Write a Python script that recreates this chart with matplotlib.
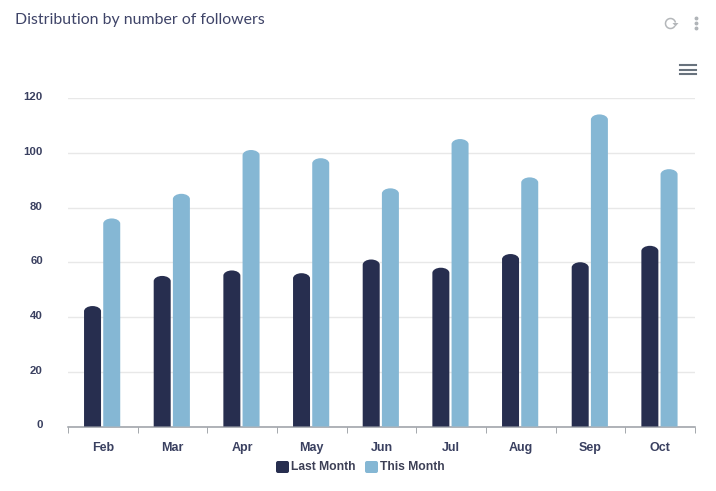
import numpy as np
import matplotlib
matplotlib.use("Agg")
import matplotlib.pyplot as plt
from matplotlib.patches import PathPatch, FancyBboxPatch, Arc, Polygon
from matplotlib.path import Path
from matplotlib.lines import Line2D
from matplotlib.transforms import ScaledTranslation

months = ['Feb', 'Mar', 'Apr', 'May', 'Jun', 'Jul', 'Aug', 'Sep', 'Oct']
last_month = [44, 55, 57, 56, 61, 58, 63, 60, 66]
this_month = [76, 85, 101, 98, 87, 105, 91, 114, 94]
y_ticks = [0, 20, 40, 60, 80, 100, 120]

W, H = 716, 491
DARK = '#272e4f'
LIGHT = '#85b7d4'
TEXT = '#3a4060'


def round_top(ax, rect, color, cap=1.9):
    # swap a bar rectangle for the same bar with a domed top
    x0, w, h = rect.get_x(), rect.get_width(), rect.get_height()
    x1 = x0 + w
    verts = [(x0, 0), (x0, h - cap),
             (x0, h - cap * 0.45), (x0 + w * 0.22, h), (x0 + w * 0.5, h),
             (x1 - w * 0.22, h), (x1, h - cap * 0.45), (x1, h - cap),
             (x1, 0), (x0, 0)]
    codes = [Path.MOVETO, Path.LINETO,
             Path.CURVE4, Path.CURVE4, Path.CURVE4,
             Path.CURVE4, Path.CURVE4, Path.CURVE4,
             Path.LINETO, Path.CLOSEPOLY]
    rect.set_visible(False)
    ax.add_patch(PathPatch(Path(verts, codes), facecolor=color, edgecolor='none', zorder=3))


fig = plt.figure(figsize=(W / 100, H / 100), dpi=100, facecolor='white')
ax = fig.add_axes([68 / W, 1 - 426.5 / H, 627 / W, 328.5 / H])

x = np.arange(len(months))
bar_w = 17 / 69.67
bars_last = ax.bar(x - 10.3 / 69.67, last_month, bar_w, color=DARK)
bars_this = ax.bar(x + 8.9 / 69.67, this_month, bar_w, color=LIGHT)
for r in bars_last:
    round_top(ax, r, DARK)
for r in bars_this:
    round_top(ax, r, LIGHT)

ax.set_xlim(-0.5, len(months) - 0.5)
ax.set_ylim(0, 120)
ax.set_yticks(y_ticks)
ax.set_xticks(x)
ax.set_xticklabels(months)
ax.set_xticks(np.arange(-0.5, len(months)), minor=True)
ax.grid(axis='y', color='#e8e8e8', linewidth=1)
ax.set_axisbelow(True)
for s in ['top', 'left', 'right']:
    ax.spines[s].set_visible(False)
ax.spines['bottom'].set_color('#9a9ea4')
ax.spines['bottom'].set_linewidth(1.1)
ax.tick_params(axis='y', length=0, pad=18)
ax.tick_params(axis='x', which='major', length=0, pad=11.5)
ax.tick_params(axis='x', which='minor', length=4.5, color='#a4a8ac', width=0.7)
for t in ax.get_xticklabels():
    t.set(family='Liberation Sans', fontweight='bold', fontsize=9, color=TEXT)
# y labels sit a little above their gridlines
lift = ScaledTranslation(0, 2 / 100, fig.dpi_scale_trans)
for t in ax.get_yticklabels():
    t.set(family='Liberation Sans', fontweight='bold', fontsize=8.2, color=TEXT)
    t.set_transform(t.get_transform() + lift)

fig.text(15 / W, 1 - 20.5 / H, 'Distribution by number of followers', family='Lato',
         fontsize=11.4, color='#3f4468', va='center', ha='left')

# legend and the small toolbar icons sit on a pixel overlay
ov = fig.add_axes([0, 0, 1, 1], facecolor='none')
ov.set_xlim(0, W)
ov.set_ylim(H, 0)
ov.axis('off')

for px, col, label in [(276, DARK, 'Last Month'), (365, LIGHT, 'This Month')]:
    ov.add_patch(FancyBboxPatch((px + 2, 463), 9, 8, boxstyle='round,pad=2', facecolor=col, edgecolor='none'))
    ov.text(px + 15, 467.5, label, family='Liberation Sans', fontweight='bold', fontsize=8.7,
            color='#3c3f55', va='center', ha='left')

for yy in [65, 69.5, 74]:
    ov.add_line(Line2D([680, 695.5], [yy, yy], color='#68727d', linewidth=1.5))

ov.add_patch(Arc((670.5, 23.5), 10, 10, theta1=30, theta2=350, color='#b4b7ba', linewidth=1.1))
ov.add_patch(Polygon([(672.5, 23), (678.5, 23), (675.5, 26.5)], facecolor='#b4b7ba', edgecolor='none'))
for yy in [18, 23, 28]:
    ov.plot([695.5], [yy], 'o', color='#b0b4b8', markersize=1.8)

fig.savefig('out.png', dpi=100)
